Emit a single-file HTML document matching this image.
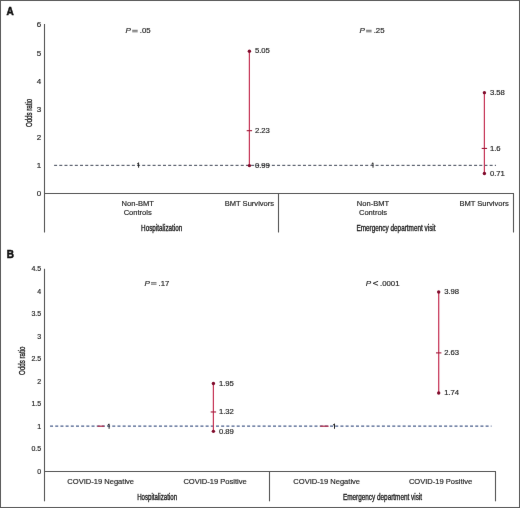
<!DOCTYPE html>
<html><head><meta charset="utf-8"><style>
html,body{margin:0;padding:0;background:#fff;}
body{width:520px;height:508px;overflow:hidden;position:relative;font-family:"Liberation Sans", sans-serif;}
svg{position:absolute;left:0;top:0;}
svg text{font-family:"Liberation Sans", sans-serif;}
.t{stroke:#262626;stroke-width:0.18px;}
</style></head><body>
<svg width="520" height="508" viewBox="0 0 520 508">
<defs><filter id="soft" x="0" y="0" width="520" height="508" filterUnits="userSpaceOnUse" color-interpolation-filters="sRGB"><feConvolveMatrix order="3" kernelMatrix="0.00163 0.03713 0.00163 0.03713 0.84497 0.03713 0.00163 0.03713 0.00163" edgeMode="duplicate" preserveAlpha="false"/></filter></defs>
<g filter="url(#soft)">
<rect x="0" y="0" width="520" height="508" fill="#fff"/>
<rect x="0.5" y="0.5" width="519" height="507" fill="none" stroke="#5a5a5a" stroke-width="1"/>
<text x="6.6" y="14.6" font-size="10" font-weight="bold" fill="#111" stroke="#111" stroke-width="0.5">A</text>
<line x1="44.5" y1="24" x2="44.5" y2="232.5" stroke="#555" stroke-width="1.1" />
<line x1="44" y1="193.5" x2="514.0" y2="193.5" stroke="#555" stroke-width="1.1" />
<line x1="278.5" y1="193.5" x2="278.5" y2="232.5" stroke="#555" stroke-width="1.1" />
<line x1="513.5" y1="193.5" x2="513.5" y2="232.5" stroke="#555" stroke-width="1.1" />
<text class="t" x="41.20" y="196.38" font-size="8.0" text-anchor="end" fill="#262626" >0</text>
<text class="t" x="41.20" y="168.21" font-size="8.0" text-anchor="end" fill="#262626" >1</text>
<text class="t" x="41.20" y="140.04" font-size="8.0" text-anchor="end" fill="#262626" >2</text>
<text class="t" x="41.20" y="111.87" font-size="8.0" text-anchor="end" fill="#262626" >3</text>
<text class="t" x="41.20" y="83.70" font-size="8.0" text-anchor="end" fill="#262626" >4</text>
<text class="t" x="41.20" y="55.53" font-size="8.0" text-anchor="end" fill="#262626" >5</text>
<text class="t" x="41.20" y="27.36" font-size="8.0" text-anchor="end" fill="#262626" >6</text>
<line x1="54.1" y1="165.32999999999998" x2="496" y2="165.32999999999998" stroke="#3d4454" stroke-width="1.0" stroke-dasharray="3.0 2.185"/>
<path d="M138.60,167.70 L138.60,162.80 L137.10,164.10" fill="none" stroke="#222" stroke-width="1.0" stroke-linejoin="miter"/>
<path d="M373.00,167.70 L373.00,162.80 L371.50,164.10" fill="none" stroke="#222" stroke-width="1.0" stroke-linejoin="miter"/>
<line x1="249.4" y1="51.2415" x2="249.4" y2="165.61169999999998" stroke="#c63658" stroke-width="1.25" />
<line x1="246.70000000000002" y1="130.6809" x2="252.1" y2="130.6809" stroke="#a01838" stroke-width="1.1" />
<circle cx="249.4" cy="51.2415" r="1.7" fill="#800c2c"/>
<circle cx="249.4" cy="165.61169999999998" r="1.7" fill="#800c2c"/>
<text class="t" x="254.90" y="53.24" font-size="7.7" text-anchor="start" fill="#262626" >5.05</text>
<text class="t" x="254.90" y="132.88" font-size="7.7" text-anchor="start" fill="#262626" >2.23</text>
<text class="t" x="254.90" y="167.81" font-size="7.7" text-anchor="start" fill="#262626" >0.99</text>
<line x1="484.4" y1="92.6514" x2="484.4" y2="173.4993" stroke="#c63658" stroke-width="1.25" />
<line x1="481.7" y1="148.428" x2="487.09999999999997" y2="148.428" stroke="#a01838" stroke-width="1.1" />
<circle cx="484.4" cy="92.6514" r="1.7" fill="#800c2c"/>
<circle cx="484.4" cy="173.4993" r="1.7" fill="#800c2c"/>
<text class="t" x="489.90" y="94.65" font-size="7.7" text-anchor="start" fill="#262626" >3.58</text>
<text class="t" x="489.90" y="150.63" font-size="7.7" text-anchor="start" fill="#262626" >1.6</text>
<text class="t" x="489.90" y="175.70" font-size="7.7" text-anchor="start" fill="#262626" >0.71</text>
<text class="t" x="125.60" y="33.20" font-size="8.1" fill="#262626" font-style="italic">P</text>
<line x1="132.20" y1="30.30" x2="137.70" y2="30.30" stroke="#444" stroke-width="0.8"/>
<line x1="132.20" y1="31.80" x2="137.70" y2="31.80" stroke="#444" stroke-width="0.8"/>
<text class="t" x="139.80" y="33.20" font-size="7.8" fill="#262626">.05</text>
<text class="t" x="359.50" y="33.20" font-size="8.1" fill="#262626" font-style="italic">P</text>
<line x1="366.10" y1="30.30" x2="371.60" y2="30.30" stroke="#444" stroke-width="0.8"/>
<line x1="366.10" y1="31.80" x2="371.60" y2="31.80" stroke="#444" stroke-width="0.8"/>
<text class="t" x="373.70" y="33.20" font-size="7.8" fill="#262626">.25</text>
<text class="t" x="137.70" y="206.30" font-size="7.55" text-anchor="middle" fill="#262626" >Non-BMT</text>
<text class="t" x="137.70" y="215.30" font-size="7.55" text-anchor="middle" fill="#262626" >Controls</text>
<text class="t" x="249.40" y="206.30" font-size="7.55" text-anchor="middle" fill="#262626" >BMT Survivors</text>
<text class="t" x="373.00" y="206.30" font-size="7.55" text-anchor="middle" fill="#262626" >Non-BMT</text>
<text class="t" x="373.00" y="215.30" font-size="7.55" text-anchor="middle" fill="#262626" >Controls</text>
<text class="t" x="484.10" y="206.30" font-size="7.55" text-anchor="middle" fill="#262626" >BMT Survivors</text>
<text transform="translate(161.70,230.60) scale(0.765,1)" font-size="8.3" text-anchor="middle" fill="#222" font-weight="normal" stroke="#222" stroke-width="0.35">Hospitalization</text>
<text transform="translate(396.00,230.60) scale(0.77,1)" font-size="8.3" text-anchor="middle" fill="#222" font-weight="normal" stroke="#222" stroke-width="0.35">Emergency department visit</text>
<text transform="translate(32.3,112.9) rotate(-90) scale(0.70,1)" font-size="8.8" text-anchor="middle" fill="#222" stroke="#222" stroke-width="0.35">Odds ratio</text>
<text x="6.8" y="257.9" font-size="10" font-weight="bold" fill="#111" stroke="#111" stroke-width="0.5">B</text>
<line x1="44.5" y1="268.8" x2="44.5" y2="501.3" stroke="#555" stroke-width="1.1" />
<line x1="44" y1="471.5" x2="496.0" y2="471.5" stroke="#555" stroke-width="1.1" />
<line x1="269.5" y1="471.5" x2="269.5" y2="501.3" stroke="#555" stroke-width="1.1" />
<line x1="495.5" y1="471.5" x2="495.5" y2="501.3" stroke="#555" stroke-width="1.1" />
<text class="t" x="41.20" y="474.02" font-size="7.0" text-anchor="end" fill="#262626" >0</text>
<text class="t" x="41.20" y="451.47" font-size="7.0" text-anchor="end" fill="#262626" >0.5</text>
<text class="t" x="41.20" y="428.92" font-size="7.0" text-anchor="end" fill="#262626" >1</text>
<text class="t" x="41.20" y="406.37" font-size="7.0" text-anchor="end" fill="#262626" >1.5</text>
<text class="t" x="41.20" y="383.82" font-size="7.0" text-anchor="end" fill="#262626" >2</text>
<text class="t" x="41.20" y="361.27" font-size="7.0" text-anchor="end" fill="#262626" >2.5</text>
<text class="t" x="41.20" y="338.72" font-size="7.0" text-anchor="end" fill="#262626" >3</text>
<text class="t" x="41.20" y="316.17" font-size="7.0" text-anchor="end" fill="#262626" >3.5</text>
<text class="t" x="41.20" y="293.62" font-size="7.0" text-anchor="end" fill="#262626" >4</text>
<text class="t" x="41.20" y="271.07" font-size="7.0" text-anchor="end" fill="#262626" >4.5</text>
<line x1="50.06" y1="426.09999999999997" x2="491.5" y2="426.09999999999997" stroke="#4a5f8c" stroke-width="1.05" stroke-dasharray="3.0 2.185"/>
<line x1="97.5" y1="426.2" x2="104.2" y2="426.2" stroke="#b03050" stroke-width="1.3" />
<path d="M109.10,428.80 L109.10,423.90 L107.60,425.20" fill="none" stroke="#222" stroke-width="1.0" stroke-linejoin="miter"/>
<line x1="320.2" y1="426.2" x2="328.6" y2="426.2" stroke="#b03050" stroke-width="1.3" />
<path d="M334.50,428.80 L334.50,423.90 L333.00,425.20" fill="none" stroke="#222" stroke-width="1.0" stroke-linejoin="miter"/>
<line x1="213.4" y1="383.555" x2="213.4" y2="431.361" stroke="#c63658" stroke-width="1.25" />
<line x1="210.70000000000002" y1="411.968" x2="216.1" y2="411.968" stroke="#a01838" stroke-width="1.1" />
<circle cx="213.4" cy="383.555" r="1.7" fill="#800c2c"/>
<circle cx="213.4" cy="431.361" r="1.7" fill="#800c2c"/>
<text class="t" x="218.90" y="385.56" font-size="7.7" text-anchor="start" fill="#262626" >1.95</text>
<text class="t" x="218.90" y="414.17" font-size="7.7" text-anchor="start" fill="#262626" >1.32</text>
<text class="t" x="218.90" y="433.56" font-size="7.7" text-anchor="start" fill="#262626" >0.89</text>
<line x1="438.7" y1="292.00199999999995" x2="438.7" y2="393.026" stroke="#c63658" stroke-width="1.25" />
<line x1="436.0" y1="352.887" x2="441.4" y2="352.887" stroke="#a01838" stroke-width="1.1" />
<circle cx="438.7" cy="292.00199999999995" r="1.7" fill="#800c2c"/>
<circle cx="438.7" cy="393.026" r="1.7" fill="#800c2c"/>
<text class="t" x="444.20" y="294.00" font-size="7.7" text-anchor="start" fill="#262626" >3.98</text>
<text class="t" x="444.20" y="355.09" font-size="7.7" text-anchor="start" fill="#262626" >2.63</text>
<text class="t" x="444.20" y="395.23" font-size="7.7" text-anchor="start" fill="#262626" >1.74</text>
<text class="t" x="144.40" y="285.60" font-size="8.1" fill="#262626" font-style="italic">P</text>
<line x1="151.00" y1="282.70" x2="156.50" y2="282.70" stroke="#444" stroke-width="0.8"/>
<line x1="151.00" y1="284.20" x2="156.50" y2="284.20" stroke="#444" stroke-width="0.8"/>
<text class="t" x="158.60" y="285.60" font-size="7.8" fill="#262626">.17</text>
<text class="t" x="365.80" y="285.60" font-size="8.1" fill="#262626" font-style="italic">P</text>
<polyline points="378.10,281.30 373.10,283.30 378.10,285.30" fill="none" stroke="#262626" stroke-width="0.95"/>
<text class="t" x="380.00" y="285.60" font-size="7.8" fill="#262626">.0001</text>
<text class="t" x="100.70" y="483.80" font-size="7.55" text-anchor="middle" fill="#262626" >COVID-19 Negative</text>
<text class="t" x="215.10" y="483.80" font-size="7.55" text-anchor="middle" fill="#262626" >COVID-19 Positive</text>
<text class="t" x="326.70" y="483.80" font-size="7.55" text-anchor="middle" fill="#262626" >COVID-19 Negative</text>
<text class="t" x="440.60" y="483.80" font-size="7.55" text-anchor="middle" fill="#262626" >COVID-19 Positive</text>
<text transform="translate(157.10,499.80) scale(0.74,1)" font-size="8.3" text-anchor="middle" fill="#222" font-weight="normal" stroke="#222" stroke-width="0.35">Hospitalization</text>
<text transform="translate(382.50,499.80) scale(0.77,1)" font-size="8.3" text-anchor="middle" fill="#222" font-weight="normal" stroke="#222" stroke-width="0.35">Emergency department visit</text>
<text transform="translate(25.4,360.7) rotate(-90) scale(0.70,1)" font-size="8.8" text-anchor="middle" fill="#222" stroke="#222" stroke-width="0.35">Odds ratio</text>
</g>
</svg>
</body></html>
